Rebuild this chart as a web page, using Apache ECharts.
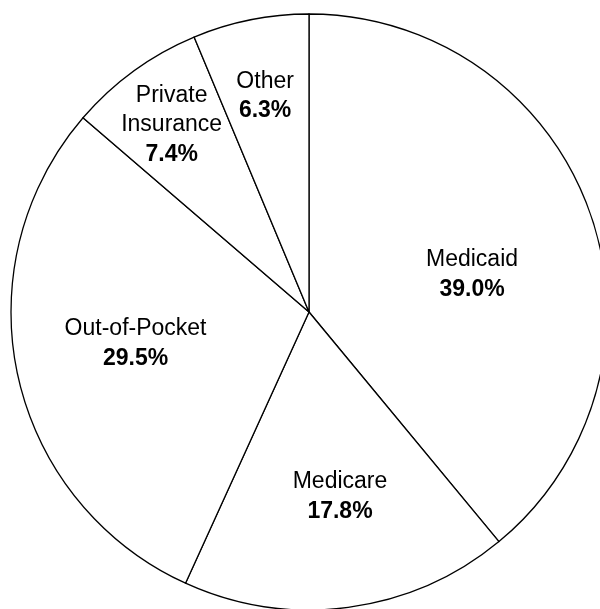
<!DOCTYPE html>
<html>
<head>
<meta charset="utf-8">
<script src="https://cdn.jsdelivr.net/npm/echarts@6/dist/echarts.min.js"></script>
<style>
html,body{margin:0;padding:0;background:#fff;}
#chart{width:600px;height:609px;}
</style>
</head>
<body>
<div id="chart"></div>
<script>
var categories = ["Medicaid", "Medicare", "Out-of-Pocket", "Private Insurance", "Other"];
var shares = [39.0, 17.8, 29.5, 7.4, 6.3];

// label nudges (px) from ECharts' inside-label anchor
var labelOffsets = [[20, 14], [11, 34], [-25, -1], [-48, -64], [-14, -67]];

var chart = echarts.init(document.getElementById('chart'), null, {renderer: 'canvas'});
var data = categories.map(function (c, i) {
  return {name: c, value: shares[i], label: {offset: labelOffsets[i]}};
});
chart.setOption({
  animation: false,
  backgroundColor: '#ffffff',
  series: [{
    type: 'pie',
    center: [309, 312],
    radius: [0, 298],
    startAngle: 90,
    clockwise: true,
    avoidLabelOverlap: false,
    silent: true,
    itemStyle: {color: '#ffffff', borderColor: '#000000', borderWidth: 1.3},
    label: {
      show: true,
      position: 'inside',
      color: '#000',
      fontFamily: 'Liberation Sans, Arial, sans-serif',
      formatter: function (p) {
        var lines = p.name.split(' ').map(function (w) { return '{n|' + w + '}'; });
        lines.push('{v|' + p.value.toFixed(1) + '%}');
        return lines.join('\n');
      },
      rich: {
        n: {fontSize: 23, lineHeight: 29.5, color: '#000', fontFamily: 'Liberation Sans, Arial, sans-serif'},
        v: {fontSize: 23, lineHeight: 29.5, fontWeight: 'bold', color: '#000', fontFamily: 'Liberation Sans, Arial, sans-serif'}
      }
    },
    labelLine: {show: false},
    data: data
  }]
});
</script>
</body>
</html>
